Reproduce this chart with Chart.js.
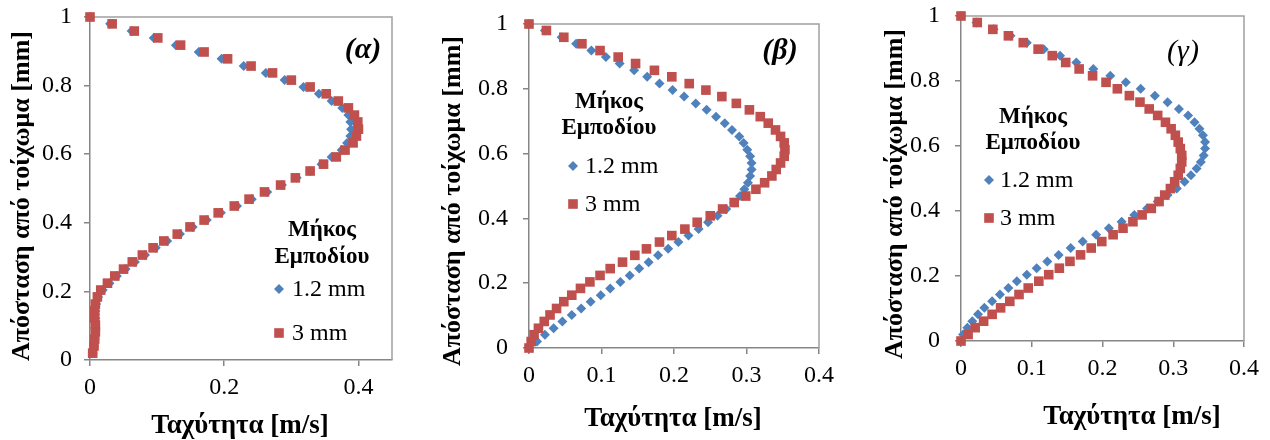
<!DOCTYPE html>
<html>
<head>
<meta charset="utf-8">
<script src="https://cdn.jsdelivr.net/npm/chart.js@4/dist/chart.umd.min.js"></script>
<style>
html,body{margin:0;padding:0;background:#fff;}
body{width:1270px;height:440px;position:relative;overflow:hidden;}
.p{position:absolute;top:0;height:440px;}
canvas{display:block;}
</style>
</head>
<body>
<div class="p" style="left:0;width:420px"><canvas id="cA" width="420" height="440"></canvas></div>
<div class="p" style="left:420px;width:420px"><canvas id="cB" width="420" height="440"></canvas></div>
<div class="p" style="left:840px;width:430px"><canvas id="cG" width="430" height="440"></canvas></div>
<script>
// ---------- DATA ----------
const seriesNames = ['1.2 mm', '3 mm'];
const legendTitle = ['Μήκος', 'Εμποδίου'];
const panelLabels = ['(α)', '(β)', '(γ)'];
const xTitle = 'Ταχύτητα [m/s]';
const yTitle = 'Απόσταση από τοίχωμα [mm]';
const yTicks = [0, 0.2, 0.4, 0.6, 0.8, 1];
const xTicksA = [0, 0.2, 0.4];
const xTicksBG = [0, 0.1, 0.2, 0.3, 0.4];

// distance from wall [mm]
const yA = [1.000, 0.980, 0.959, 0.939, 0.918, 0.898, 0.878, 0.857, 0.837, 0.816,
            0.796, 0.776, 0.755, 0.735, 0.714, 0.694, 0.673, 0.653, 0.633, 0.612,
            0.592, 0.571, 0.551, 0.531, 0.510, 0.490, 0.469, 0.449, 0.429, 0.408,
            0.388, 0.367, 0.347, 0.327, 0.306, 0.286, 0.265, 0.245, 0.224, 0.204,
            0.184, 0.163, 0.143, 0.122, 0.102, 0.082, 0.061, 0.041, 0.020];
const yBG = [1.000, 0.980, 0.959, 0.939, 0.918, 0.898, 0.878, 0.857, 0.837, 0.816,
             0.796, 0.776, 0.755, 0.735, 0.714, 0.694, 0.673, 0.653, 0.633, 0.612,
             0.592, 0.571, 0.551, 0.531, 0.510, 0.490, 0.469, 0.449, 0.429, 0.408,
             0.388, 0.367, 0.347, 0.327, 0.306, 0.286, 0.265, 0.245, 0.224, 0.204,
             0.184, 0.163, 0.143, 0.122, 0.102, 0.082, 0.061, 0.041, 0.020, 0.000];

// velocity [m/s]
const velA_12 = [0, .030, .062, .095, .128, .162, .196, .229, .262, .290,
                 .318, .341, .360, .376, .385, .388, .389, .388, .383, .375,
                 .360, .345, .328, .308, .286, .264, .241, .219, .195, .174,
                 .153, .134, .115, .098, .082, .067, .053, .040, .029, .019,
                 .012, .009, .008, .008, .008, .008, .007, .006, .004];
const velA_3  = [0, .033, .066, .101, .135, .170, .205, .240, .272, .300,
                 .328, .352, .370, .385, .394, .399, .400, .397, .392, .380,
                 .367, .348, .328, .306, .284, .260, .237, .215, .191, .170,
                 .149, .130, .110, .094, .078, .063, .050, .037, .026, .016,
                 .011, .008, .007, .007, .008, .008, .007, .006, .004];

const velB_12 = [0, .022, .045, .065, .086, .106, .125, .145, .163, .180,
                 .198, .214, .230, .245, .258, .270, .280, .290, .296, .301,
                 .305, .307, .307, .305, .302, .297, .291, .283, .272, .260,
                 .247, .234, .220, .206, .192, .178, .165, .152, .139, .126,
                 .112, .099, .085, .072, .059, .046, .034, .022, .011, 0];
const velB_3  = [0, .024, .048, .073, .098, .123, .147, .173, .197, .221,
                 .244, .266, .286, .304, .319, .330, .340, .347, .352, .353,
                 .352, .347, .341, .335, .325, .313, .299, .283, .267, .250,
                 .232, .215, .197, .180, .162, .146, .129, .112, .098, .084,
                 .071, .059, .048, .038, .029, .021, .013, .007, .003, 0];

const velG_12 = [0, .022, .046, .070, .093, .117, .140, .163, .187, .211,
                 .233, .254, .274, .292, .308, .321, .330, .337, .342, .345,
                 .345, .343, .339, .333, .325, .316, .305, .292, .278, .263,
                 .245, .227, .209, .191, .172, .155, .138, .122, .107, .093,
                 .079, .067, .055, .044, .033, .024, .016, .009, .003, 0];
const velG_3  = [0, .023, .045, .067, .088, .109, .129, .148, .167, .186,
                 .205, .221, .238, .253, .266, .278, .289, .297, .303, .307,
                 .310, .312, .312, .310, .307, .302, .296, .288, .280, .269,
                 .256, .243, .229, .215, .199, .184, .169, .154, .139, .124,
                 .110, .095, .082, .069, .056, .044, .032, .020, .010, 0];

// ---------- STYLE / LAYOUT ----------
const FONT = "'Liberation Serif', 'Times New Roman', serif";
const AXIS = '#868686';
const FRAME = '#a0a0a0';
const BLUE = '#4F81BD';
const RED = '#C0504D';

const panels = [
  {id: 'cA', y: yA, v12: velA_12, v3: velA_3, xMax: 0.45, xTicks: xTicksA,
   yW: 90, xH: 80, padR: 28, padT: 17, yTickPad: 12, xTickPad: 7,
   label: panelLabels[0], labelFont: 'italic bold 30px ' + FONT, labelPos: [363, 50],
   leg: {cx: 322, t1: 230, t2: 257, mx: 279, tx: 292, y1: 289, y2: 333},
   yTitlePos: [22, 196], xTitlePos: [240, 426]},
  {id: 'cB', y: yBG, v12: velB_12, v3: velB_3, xMax: 0.4, xTicks: xTicksBG,
   yW: 109, xH: 92, padR: 21, padT: 24, yTickPad: 15, xTickPad: 7,
   label: panelLabels[1], labelFont: 'italic bold 30px ' + FONT, labelPos: [360, 51],
   leg: {cx: 189, t1: 102, t2: 128, mx: 153, tx: 165, y1: 166, y2: 204},
   yTitlePos: [33, 201], xTitlePos: [253, 419]},
  {id: 'cG', y: yBG, v12: velG_12, v3: velG_3, xMax: 0.4, xTicks: xTicksBG,
   yW: 121, xH: 99, padR: 26, padT: 16, yTickPad: 15, xTickPad: 7,
   label: panelLabels[2], labelFont: 'italic 30px ' + FONT, labelPos: [343, 52],
   leg: {cx: 193, t1: 117, t2: 143, mx: 149, tx: 160, y1: 180, y2: 218},
   yTitlePos: [55, 194], xTitlePos: [292, 417]}
];

const deco = {
  id: 'deco',
  beforeDatasetsDraw(chart) {
    const {ctx, chartArea: a} = chart;
    ctx.save();
    ctx.strokeStyle = FRAME;
    ctx.lineWidth = 1.5;
    ctx.beginPath();
    ctx.moveTo(a.left, a.top); ctx.lineTo(a.right, a.top); ctx.lineTo(a.right, a.bottom);
    ctx.stroke();
    ctx.restore();
  },
  afterDraw(chart, args, o) {
    const p = o.panel;
    const ctx = chart.ctx;
    ctx.save();
    ctx.fillStyle = '#000';
    ctx.textBaseline = 'middle';
    ctx.textAlign = 'center';
    // panel label
    ctx.font = p.labelFont;
    ctx.fillText(p.label, p.labelPos[0], p.labelPos[1]);
    // axis titles
    ctx.font = 'bold 27px ' + FONT;
    ctx.fillText(xTitle, p.xTitlePos[0], p.xTitlePos[1]);
    ctx.save();
    ctx.font = 'bold 26px ' + FONT;
    ctx.translate(p.yTitlePos[0], p.yTitlePos[1]);
    ctx.rotate(-Math.PI / 2);
    ctx.fillText(yTitle, 0, 0);
    ctx.restore();
    // legend
    const L = p.leg;
    ctx.font = 'bold 23px ' + FONT;
    ctx.fillText(legendTitle[0], L.cx, L.t1);
    ctx.fillText(legendTitle[1], L.cx, L.t2);
    const ds = chart.data.datasets;
    const rows = [[ds[0], L.y1], [ds[1], L.y2]];
    ctx.textAlign = 'left';
    ctx.font = '24px ' + FONT;
    rows.forEach(([d, yy]) => {
      ctx.fillStyle = d.backgroundColor;
      Chart.helpers.drawPoint(ctx, {pointStyle: d.pointStyle, radius: d.pointRadius, rotation: 0, borderWidth: 0}, L.mx, yy);
      ctx.fillStyle = '#000';
      ctx.fillText(d.label, L.tx, yy + 1);
    });
    ctx.restore();
  }
};

panels.forEach(p => {
  const ds12 = {
    label: seriesNames[0],
    data: p.y.map((y, i) => ({x: p.v12[i], y: y})),
    pointStyle: 'rectRot', pointRadius: 5, pointBorderWidth: 0,
    backgroundColor: BLUE, borderColor: BLUE, showLine: false, clip: false, order: 2
  };
  const ds3 = {
    label: seriesNames[1],
    data: p.y.map((y, i) => ({x: p.v3[i], y: y})),
    pointStyle: 'rect', pointRadius: 6.8, pointBorderWidth: 0,
    backgroundColor: RED, borderColor: RED, showLine: false, clip: false, order: 1
  };
  new Chart(document.getElementById(p.id), {
    type: 'scatter',
    data: {datasets: [ds12, ds3]},
    options: {
      responsive: false,
      animation: false,
      events: [],
      layout: {padding: {left: 0, right: p.padR, top: p.padT, bottom: 0}},
      plugins: {
        legend: {display: false},
        tooltip: {enabled: false},
        deco: {panel: p}
      },
      scales: {
        x: {
          type: 'linear', min: 0, max: p.xMax,
          afterBuildTicks: s => { s.ticks = p.xTicks.map(v => ({value: v})); },
          afterFit: s => { s.height = p.xH; s.paddingLeft = 0; s.paddingRight = 0; s.paddingTop = 0; s.paddingBottom = 0; },
          grid: {display: true, drawOnChartArea: false, drawTicks: true, tickLength: 6, color: AXIS, lineWidth: 1.5},
          border: {display: true, color: AXIS, width: 1.5},
          ticks: {color: '#000', font: {family: FONT, size: 24}, padding: p.xTickPad, maxRotation: 0,
                  callback: v => String(+(+v).toFixed(2))}
        },
        y: {
          type: 'linear', min: 0, max: 1,
          afterBuildTicks: s => { s.ticks = yTicks.map(v => ({value: v})); },
          afterFit: s => { s.width = p.yW; s.paddingLeft = 0; s.paddingRight = 0; s.paddingTop = 0; s.paddingBottom = 0; },
          grid: {display: true, drawOnChartArea: false, drawTicks: true, tickLength: 6, color: AXIS, lineWidth: 1.5},
          border: {display: true, color: AXIS, width: 1.5},
          ticks: {color: '#000', font: {family: FONT, size: 24}, padding: p.yTickPad,
                  callback: v => String(+(+v).toFixed(2))}
        }
      }
    },
    plugins: [deco]
  });
});
</script>
</body>
</html>
